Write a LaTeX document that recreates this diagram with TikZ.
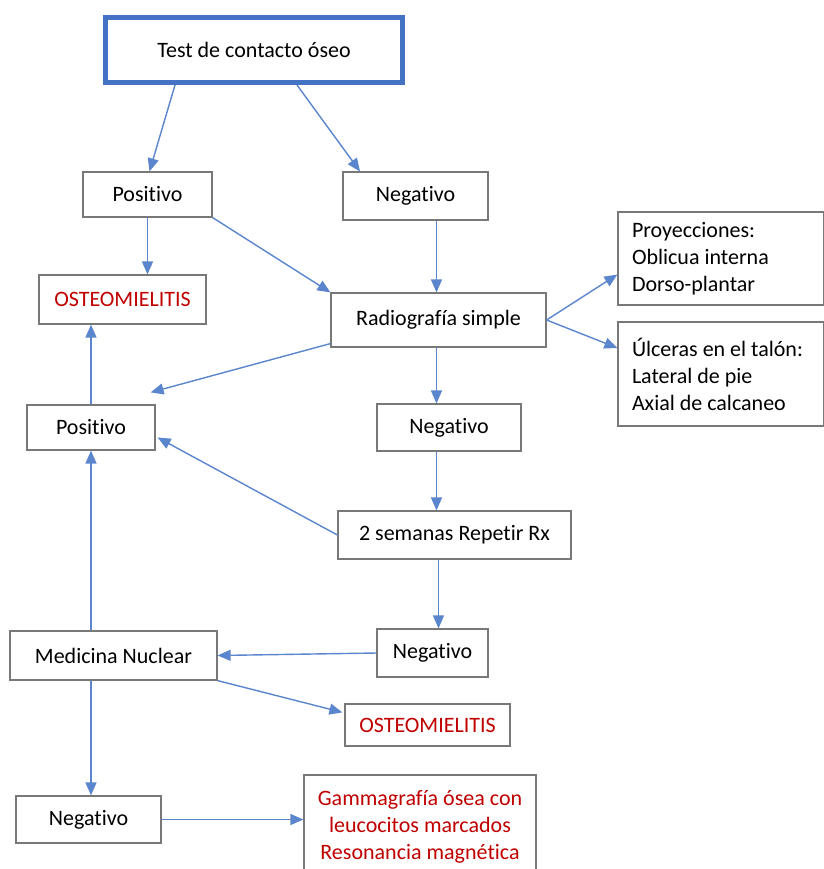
\documentclass[tikz,border=0pt]{standalone}
\usepackage{fontspec}
\setmainfont{Carlito}[Ligatures=NoCommon]
\usetikzlibrary{arrows.meta}
\definecolor{lineblue}{RGB}{91,134,206}
\definecolor{boxblue}{RGB}{68,114,196}
\definecolor{boxgray}{RGB}{120,120,120}
\definecolor{darkred}{RGB}{192,0,0}
\begin{document}
\begin{tikzpicture}[x=0.5pt,y=-0.5pt,
  every node/.style={font=\fontsize{11}{13.5}\selectfont},
  box/.style={draw=boxgray,line width=0.6pt,inner sep=0pt,align=center,fill=white},
  leftbox/.style={box,align=flush left,inner xsep=7pt,text width=89pt},
  redtext/.style={text=darkred},
  conn/.style={draw=lineblue,line width=0.7pt,-{Triangle[length=6.5pt,width=5.5pt]}}]
\clip (0,0) rectangle (824,869);
\useasboundingbox (0,0) rectangle (824,869);
\fill[white] (0,0) rectangle (824,869);

\node[box,draw=boxblue,line width=2.5pt,minimum width=148.5pt,minimum height=32.5pt] (top) at (254,50) {Test de contacto óseo};
\node[box,minimum width=64.5pt,minimum height=22.5pt] (pos1) at (147.5,194.5) {Positivo};
\node[box,minimum width=72.5pt,minimum height=24pt] (neg1) at (415.5,196) {Negativo};
\node[box,redtext,minimum width=83.5pt,minimum height=24.5pt] (ost1) at (122.5,299.5) {OSTEOMIELITIS};
\node[box,minimum width=107.5pt,minimum height=27pt] (radio) at (438.5,320) {Radiografía simple};
\node[leftbox,minimum height=46.5pt] (proy) at (721,258.5) {Proyecciones:\\Oblicua interna\\Dorso-plantar};
\node[leftbox,minimum height=52pt] (ulc) at (721,374) {Úlceras en el talón:\\Lateral de pie\\Axial de calcaneo};
\node[box,minimum width=64pt,minimum height=22.5pt] (pos2) at (91,427.5) {Positivo};
\node[box,minimum width=72pt,minimum height=23.5pt] (neg2) at (449,427.5) {Negativo};
\node[box,minimum width=116.5pt,minimum height=24pt] (sem) at (454.5,535) {2 semanas Repetir Rx};
\node[box,minimum width=55.5pt,minimum height=24pt] (neg3) at (432.5,653) {Negativo};
\node[box,minimum width=103.5pt,minimum height=24.5pt] (med) at (113.5,655.5) {Medicina Nuclear};
\node[box,redtext,minimum width=82.5pt,minimum height=21pt] (ost2) at (427.5,725) {OSTEOMIELITIS};
\node[box,minimum width=72.5pt,minimum height=23.5pt] (neg4) at (88.5,819.5) {Negativo};
\node[box,redtext,minimum width=116pt,minimum height=52pt] (gam) at (420,827) {Gammagrafía ósea con\\leucocitos marcados\\Resonancia magnética};

\draw[conn] ([xshift=-39.5pt]top.south) -- ([xshift=1pt]pos1.north);
\draw[conn] ([xshift=21.5pt]top.south) -- ([xshift=-27.75pt]neg1.north);
\draw[conn] (pos1.south) -- (pos1.south |- ost1.north);
\draw[conn] (pos1.south east) -- (radio.north west);
\draw[conn] ([xshift=-1pt]neg1.south -| radio.north) -- ([xshift=-1pt]radio.north);
\draw[conn] (radio.east) -- ([yshift=-8pt]proy.west);
\draw[conn] (radio.east) -- ([yshift=13pt]ulc.west);
\draw[conn] ([yshift=2pt]radio.south west) -- ([xshift=-2.5pt,yshift=6pt]pos2.north east);
\draw[conn] ([xshift=-1pt]radio.south) -- ([xshift=-1pt]radio.south |- neg2.north);
\draw[conn] ([xshift=-1pt]radio.south |- neg2.south) -- ([xshift=-1pt]radio.south |- sem.north);
\draw[conn] (sem.west) -- ([xshift=1pt,yshift=-5pt]pos2.east);
\draw[conn] (pos2.north) -- (pos2.north |- ost1.south);
\draw[conn] (radio.south |- sem.south) -- (radio.south |- neg3.north);
\draw[conn] (neg3.west) -- (med.east);
\draw[conn] (pos2.south |- med.north) -- (pos2.south);
\draw[conn] (pos2.south |- med.south) -- (pos2.south |- neg4.north);
\draw[conn] (med.south east) -- ([xshift=-1pt,yshift=-4.5pt]ost2.north west);
\draw[conn] (neg4.east) -- (neg4.east -| gam.west);
\end{tikzpicture}
\end{document}
